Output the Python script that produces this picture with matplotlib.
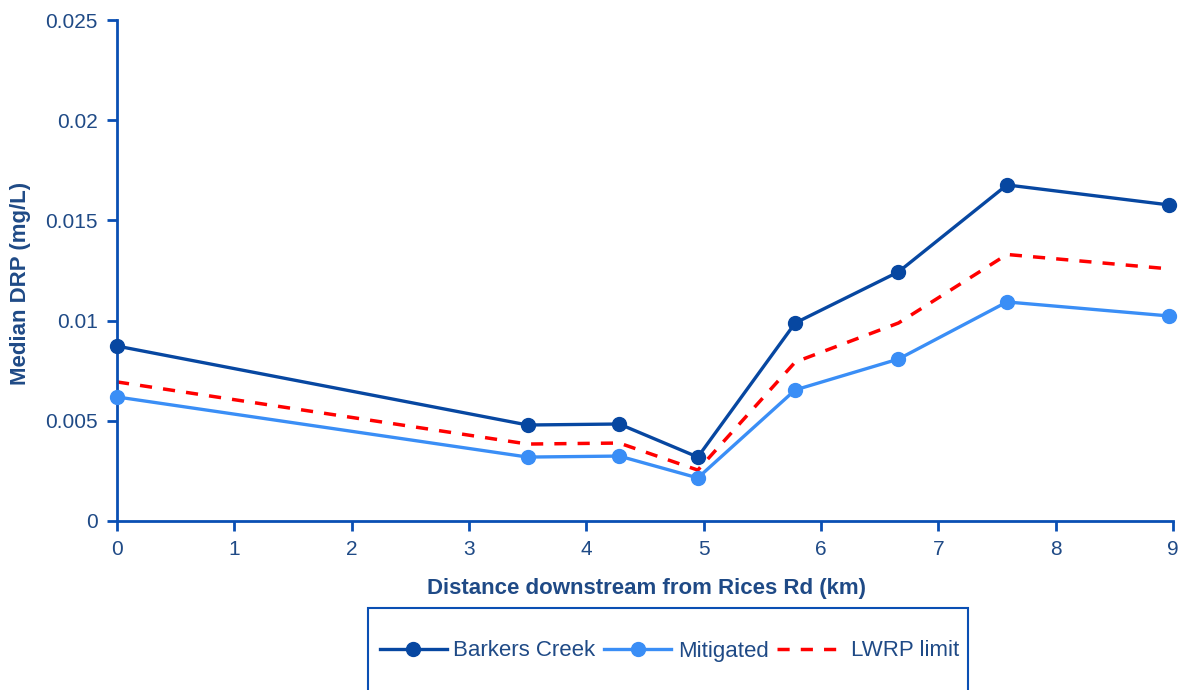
import matplotlib.pyplot as plt
from matplotlib.patches import Rectangle

# distance downstream (km) and median DRP (mg/L) at each site
distance_km = [0.0, 3.50, 4.28, 4.95, 5.78, 6.66, 7.585, 8.97]
barkers_creek = [0.00873, 0.00479, 0.00484, 0.00319, 0.00988, 0.01243, 0.01677, 0.01577]
mitigated = [0.00619, 0.00319, 0.00324, 0.00215, 0.00654, 0.00808, 0.01093, 0.01023]
lwrp_limit = [0.00694, 0.00384, 0.00389, 0.00254, 0.00793, 0.00988, 0.0133, 0.01258]

x_ticks = list(range(0, 10))
y_ticks = [0, 0.005, 0.01, 0.015, 0.02, 0.025]
y_tick_labels = ['0', '0.005', '0.01', '0.015', '0.02', '0.025']

plt.rcParams['font.family'] = ['Liberation Sans', 'DejaVu Sans']

text_col = '#1F4A86'
axis_col = '#0A4FB3'
dark_blue = '#0747A1'
light_blue = '#3A8EF6'

fig = plt.figure(figsize=(11.88, 6.90), dpi=100)
ax = fig.add_axes([117 / 1188, 1 - 521 / 690, (1173 - 117) / 1188, (521 - 20) / 690])

ax.plot(distance_km, barkers_creek, color=dark_blue, lw=2.4, marker='o', ms=10,
        label='Barkers Creek', zorder=3, clip_on=False)
ax.plot(distance_km, mitigated, color=light_blue, lw=2.4, marker='o', ms=10,
        label='Mitigated', zorder=3, clip_on=False)
ax.plot(distance_km, lwrp_limit, color='#FF0000', lw=2.5, ls=(0, (3.5, 3.2)),
        label='LWRP limit', zorder=2, clip_on=False)

ax.set_xlim(0, 9)
ax.set_ylim(0, 0.025)
ax.set_xticks(x_ticks)
ax.set_xticklabels([str(t) for t in x_ticks])
ax.set_yticks(y_ticks)
ax.set_yticklabels(y_tick_labels)

for s in ['top', 'right']:
    ax.spines[s].set_visible(False)
for s in ['left', 'bottom']:
    ax.spines[s].set_color(axis_col)
    ax.spines[s].set_linewidth(2)
ax.tick_params(colors=axis_col, labelcolor=text_col, labelsize=15, width=2, length=7, pad=7)

ax.set_xlabel('Distance downstream from Rices Rd (km)', fontsize=16, fontweight='bold',
              color=text_col)
ax.set_ylabel('Median DRP (mg/L)', fontsize=16, fontweight='bold', color=text_col)
ax.xaxis.set_label_coords(0.501, -0.114)
ax.yaxis.set_label_coords(-0.081, 0.475)
ax.patch.set_visible(False)

# legend box below the plot, running off the bottom edge
fig.patches.append(Rectangle((368 / 1188, -0.05), 600 / 1188, 1 - 608 / 690 + 0.05,
                             transform=fig.transFigure, fill=False, edgecolor=axis_col, lw=1.5))
fig.legend(loc='center left', bbox_to_anchor=(380 / 1188, 1 - 651 / 690), ncol=3, frameon=False,
           fontsize=16, handlelength=3.0, columnspacing=0.4, handletextpad=0.3, borderpad=0,
           borderaxespad=0, labelcolor=text_col)

fig.savefig('out.png', dpi=100)
